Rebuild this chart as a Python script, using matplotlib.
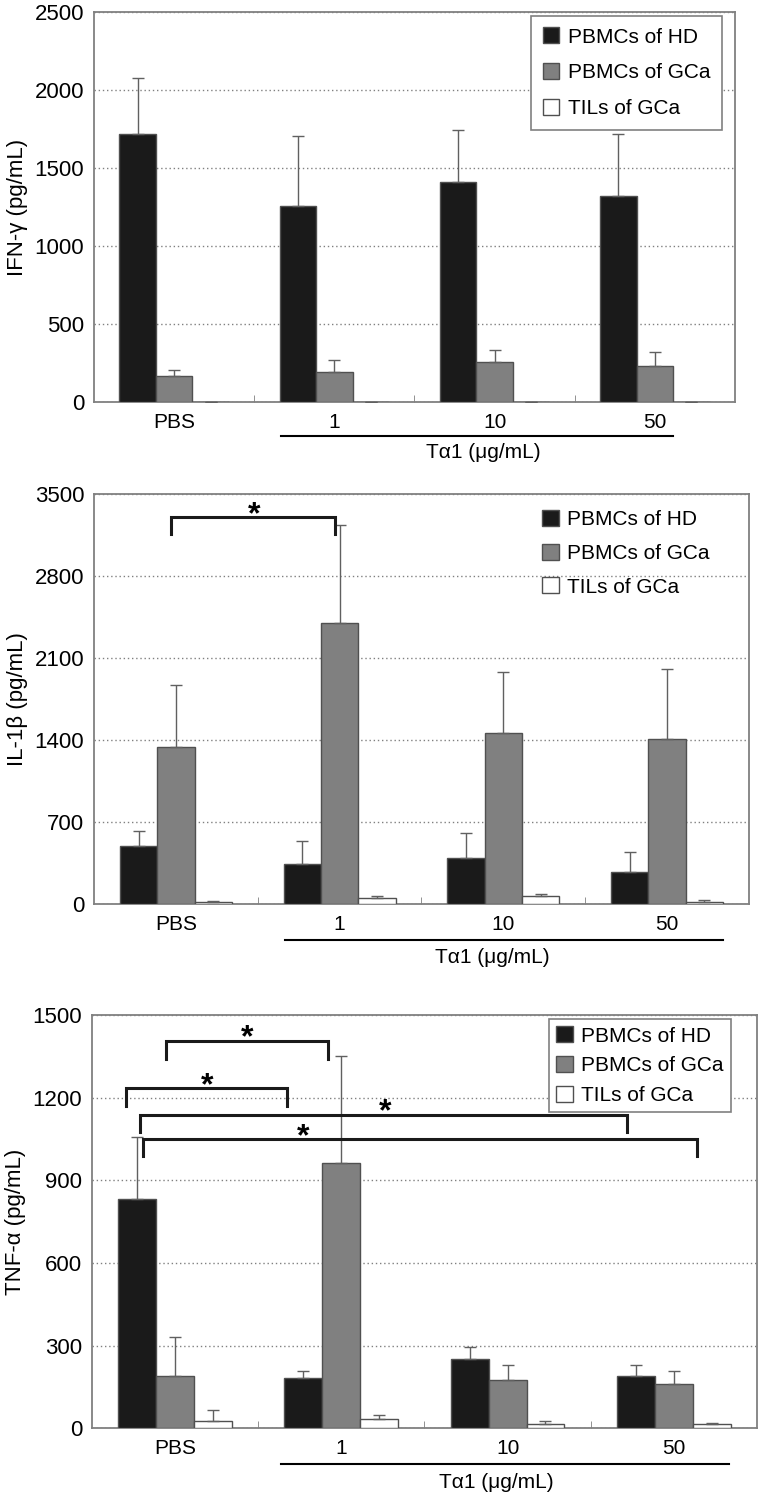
import matplotlib
matplotlib.use("Agg")
import matplotlib.pyplot as plt
import numpy as np

plt.rcParams['font.family'] = ['Liberation Sans', 'DejaVu Sans']

groups = ['PBS', '1', '10', '50']
series = ['PBMCs of HD', 'PBMCs of GCa', 'TILs of GCa']

# IFN-gamma (pg/mL), mean and upper SD
ifn_hd = [1718, 1254, 1410, 1318]
ifn_hd_sd = [361, 451, 334, 400]
ifn_gca = [165, 190, 254, 229]
ifn_gca_sd = [38, 77, 77, 90]
ifn_til = [0, 0, 0, 0]
ifn_til_sd = [0, 0, 0, 0]

# IL-1beta (pg/mL)
il1_hd = [493, 345, 396, 276]
il1_hd_sd = [134, 196, 214, 168]
il1_gca = [1344, 2398, 1461, 1413]
il1_gca_sd = [530, 840, 524, 592]
il1_til = [14, 51, 66, 14]
il1_til_sd = [14, 14, 17, 17]

# TNF-alpha (pg/mL)
tnf_hd = [833, 183, 250, 189]
tnf_hd_sd = [223, 26, 46, 40]
tnf_gca = [189, 962, 175, 162]
tnf_gca_sd = [141, 388, 54, 46]
tnf_til = [28, 35, 15, 15]
tnf_til_sd = [40, 15, 12, 6]

colors = ['#1a1a1a', '#808080', 'white']
width = 0.228


def draw_panel(ax, means, sds, ylabel, ymax, step, leg_x, line_x, brackets,
               leg_alpha=1, leg_space=0.8, leg_pad=0.55):
    x = np.arange(len(groups))
    for i in range(3):
        ax.bar(x + (i - 1) * width, means[i], width, color=colors[i],
               edgecolor='#505050', linewidth=1, label=series[i],
               yerr=[np.zeros(len(groups)), sds[i]],
               error_kw=dict(ecolor='#606060', elinewidth=1, capsize=4.3, capthick=1),
               zorder=3)
    ax.set_xlim(-0.5, 3.5)
    ax.set_ylim(0, ymax)
    ax.set_yticks(np.arange(0, ymax + 1, step))
    ax.set_xticks(x)
    ax.set_xticklabels(groups)
    ax.set_xticks([0.5, 1.5, 2.5], minor=True)
    ax.tick_params(axis='y', length=0, pad=7, labelsize=16)
    ax.tick_params(axis='x', which='major', length=0, pad=8, labelsize=15)
    ax.tick_params(axis='x', which='minor', direction='in', length=5, color='#808080')
    ax.yaxis.grid(True, linestyle=(0, (1, 2)), color='#808080', lw=1)
    ax.set_axisbelow(True)
    for s in ax.spines.values():
        s.set_color('#808080')
        s.set_linewidth(1.3)
    ax.set_ylabel(ylabel, fontsize=16, labelpad=5)

    leg = ax.legend(loc='upper left', bbox_to_anchor=(leg_x, 0.99), borderaxespad=0,
                    fancybox=False, edgecolor='#808080', framealpha=leg_alpha,
                    fontsize=15, handlelength=0.8, handleheight=0.8,
                    handletextpad=0.4, labelspacing=leg_space, borderpad=leg_pad)
    leg.get_frame().set_linewidth(1.2)

    tr = ax.get_xaxis_transform()
    ax.plot(line_x, [-0.087, -0.087], transform=tr, color='black', lw=1.5, clip_on=False)
    ax.text(1.93, -0.13, 'T\u03b11 (\u03bcg/mL)', transform=tr, ha='center', va='center', fontsize=15)

    for x1, x2, ytop, ybot, sx in brackets:
        ax.plot([x1, x1, x2, x2], [ybot, ytop, ytop, ybot], color='#1a1a1a', lw=2.2,
                solid_joinstyle='miter', zorder=4)
        ax.annotate('*', xy=(sx, ytop), xytext=(0, -4), textcoords='offset points',
                    ha='center', va='baseline', fontsize=23, fontweight='bold', zorder=5)


fig = plt.figure(figsize=(7.6, 14.97), dpi=100)

ax1 = fig.add_axes([0.1237, 0.7315, 0.967 - 0.1237, 0.992 - 0.7315])
draw_panel(ax1, [ifn_hd, ifn_gca, ifn_til], [ifn_hd_sd, ifn_gca_sd, ifn_til_sd],
           'IFN-\u03b3 (pg/mL)', 2500, 500, 0.682, [0.667, 3.111], [])

ax2 = fig.add_axes([0.1237, 0.3961, 0.9855 - 0.1237, 0.6698 - 0.3961])
draw_panel(ax2, [il1_hd, il1_gca, il1_til], [il1_hd_sd, il1_gca_sd, il1_til_sd],
           'IL-1\u03b2 (pg/mL)', 3500, 700, 0.667, [0.666, 3.343],
           [(-0.03, 0.97, 3303, 3161, 0.477)], leg_alpha=0, leg_space=0.7)

ax3 = fig.add_axes([0.121, 0.0459, 0.996 - 0.121, 0.322 - 0.0459])
draw_panel(ax3, [tnf_hd, tnf_gca, tnf_til], [tnf_hd_sd, tnf_gca_sd, tnf_til_sd],
           'TNF-\u03b1 (pg/mL)', 1500, 300, 0.687, [0.637, 3.333],
           [(-0.055, 0.918, 1405, 1339, 0.432),
            (-0.295, 0.675, 1234, 1170, 0.192),
            (-0.211, 2.716, 1137, 1075, 1.262),
            (-0.191, 3.141, 1049, 988, 0.769)],
           leg_space=0.5, leg_pad=0.35)

fig.savefig('out.png', dpi=100)
